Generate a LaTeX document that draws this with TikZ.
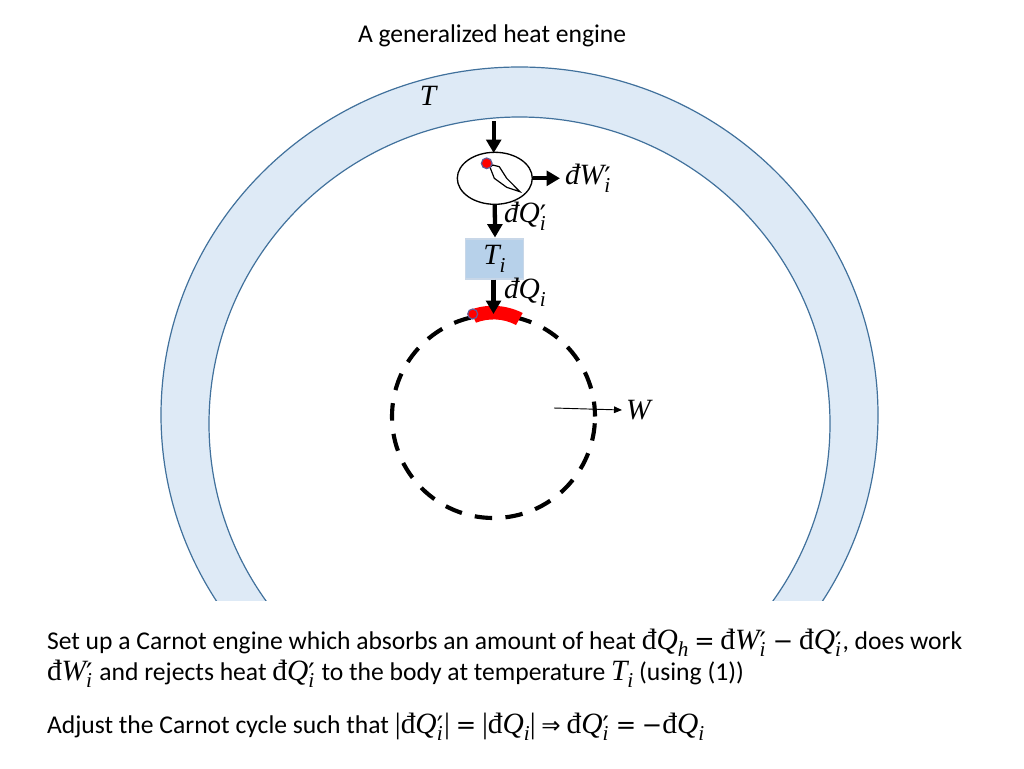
\documentclass[tikz,border=0pt]{standalone}
\usepackage{fontspec}
\setmainfont{Carlito}
\newfontfamily\mfont[Scale=1.15]{Liberation Serif}
\newfontfamily\sfont{DejaVu Sans}
\usetikzlibrary{arrows.meta,shapes.geometric}
\newcommand{\mi}[1]{{\mfont\itshape #1}}
\newcommand{\mr}[1]{{\mfont #1}}
\newcommand{\sbs}[1]{\raisebox{-0.3em}{\scalebox{0.72}{\mfont\itshape #1}}}
\newcommand{\vprime}[1]{\rlap{\raisebox{-0.12em}{\scalebox{1.1}{\sfont ′}}}\raisebox{-0.3em}{\scalebox{0.72}{\mfont\itshape #1}}\hspace{0.06em}}
\newcommand{\dbr}{{\mfont đ}}
\newcommand{\dbrI}{{\mfont\itshape đ}}
\newcommand{\impl}{{\sfont\scalebox{0.9}{⇒}}}
\newcommand{\eqs}{{\sfont\scalebox{0.95}{=}}}
\newcommand{\mns}{{\sfont\scalebox{0.95}{−}}}
\definecolor{ringfill}{RGB}{222,234,246}
\definecolor{ringline}{RGB}{65,113,156}
\definecolor{boxfill}{RGB}{183,209,234}
\definecolor{boxline}{RGB}{200,215,232}
\definecolor{dotline}{RGB}{100,90,150}
\tikzset{
  x=0.75pt,y=-0.75pt,
  body/.style={font=\fontsize{19.2}{23}\selectfont,anchor=base west,inner sep=0pt,outer sep=0pt},
  lab/.style={font=\fontsize{19.2}{23}\selectfont,inner sep=0pt,outer sep=0pt},
  bigarrow/.style={-{Triangle[length=10pt,width=11pt]},line width=3.2pt,black},
  reddot/.style={circle,draw=dotline,fill=red,line width=0.9pt,inner sep=0pt},
}
\begin{document}
\begin{tikzpicture}
\useasboundingbox (0,0) rectangle (1024,768);
\begin{scope}
\clip (0,0) rectangle (1024,600.5);
\fill[ringfill,even odd rule] (519.5,415) ellipse [x radius=358.5,y radius=348] (519.5,423.7) ellipse [x radius=310.5,y radius=306.7];
\draw[ringline,line width=0.9pt] (519.5,415) ellipse [x radius=358.5,y radius=348];
\draw[ringline,line width=0.9pt] (519.5,423.7) ellipse [x radius=310.5,y radius=306.7];
\end{scope}
\node[body] (title) at (358,42) {A generalized heat engine};
\node[lab] (tlab) at (428,96) {\mi{T}};
% dashed circle
\draw[line width=3.1pt,dash pattern=on 13.1pt off 10pt,dash phase=18pt] (493.5,416.5) circle (101.5);
% red arc
\fill[red] (470,310) .. controls (485,304) and (505,304) .. (522.7,313) -- (516,325) .. controls (503,318) and (488,318) .. (476,322.7) -- cycle;
\node[reddot,minimum size=7.5pt] (dotb) at (472.7,314) {};
% engine
\node[ellipse,draw,line width=1pt,minimum width=56.25pt,minimum height=39pt,inner sep=0pt] (eng) at (494.8,178.3) {};
\draw[line width=0.9pt] (492.7,165) -- (499.3,166.7) -- (506.7,178.3) -- (520,191.7) -- (506.7,187.3) -- (494.3,178.3) -- (490,167.3) -- cycle;
\node[reddot,minimum size=8pt] (dota) at (486.7,163.3) {};
\coordinate (src) at (493.7,121);
\coordinate (engtop) at (493.7,153);
\draw[bigarrow] (src) -- (engtop);
\coordinate (wend) at (560,178.3);
\draw[bigarrow] (eng.east) -- (wend);
\node[lab,anchor=west] (wi) at (565,178) {\dbrI\mi{W}\vprime{i}};
% box
\node[draw=boxline,fill=boxfill,line width=0.8pt,minimum width=43.5pt,minimum height=30pt,inner sep=0pt] (ti) at (494.5,259) {\fontsize{19.2}{23}\selectfont\mi{T}\sbs{i}};
\coordinate (boxtop) at (495,237.5);
\draw[bigarrow] (eng.south) -- (boxtop);
\node[lab,anchor=west] (qp) at (504,216) {\dbrI\mi{Q}\vprime{i}};
\coordinate (redtop) at (493.5,314);
\draw[bigarrow] (ti.south -| redtop) -- (redtop);
\node[lab,anchor=west] (qi) at (504,292) {\dbrI\mi{Q}\sbs{i}};
% W arrow
\coordinate (ws) at (554,408);
\coordinate (we) at (622,410);
\draw[-{Triangle[length=6pt,width=5pt]},line width=0.7pt] (ws) -- (we);
\node[lab,anchor=west] (w) at (626,410) {\mi{W}};
% text
\node[body] (t1) at (47,649) {Set up a Carnot engine which absorbs an amount of heat \dbr\mi{Q}\sbs{h} \eqs{} \dbr\mi{W}\vprime{i} \mns{} \dbr\mi{Q}\vprime{i}, does work};
\node[body] (t2) at (47,680) {\dbr\mi{W}\vprime{i} and rejects heat \dbr\mi{Q}\vprime{i} to the body at temperature \mi{T}\sbs{i} (using (1))};
\node[body] (t3) at (47,733) {Adjust the Carnot cycle such that \mr{|}\dbr\mi{Q}\vprime{i}\mr{|} \eqs{} \mr{|}\dbr\mi{Q}\sbs{i}\mr{|} \impl{} \dbr\mi{Q}\vprime{i} \eqs{} \mns{}\dbr\mi{Q}\sbs{i}};
\end{tikzpicture}
\end{document}
